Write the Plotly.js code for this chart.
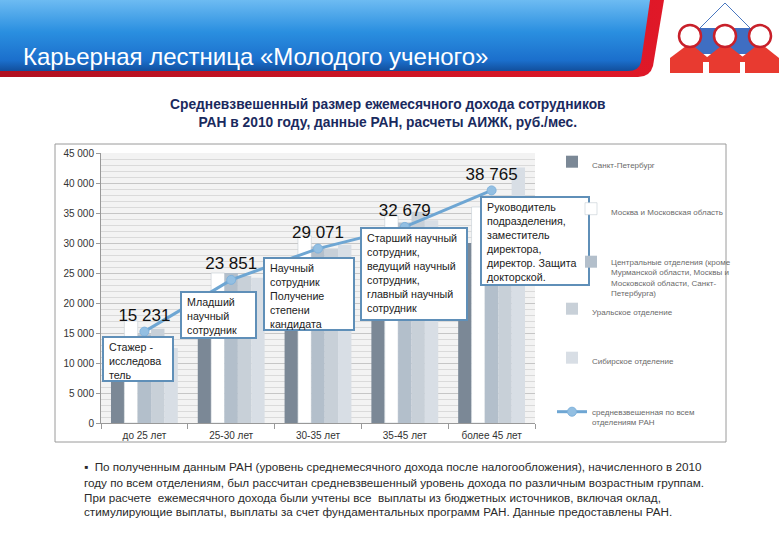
<!DOCTYPE html>
<html>
<head>
<meta charset="utf-8">
<script src="https://cdn.plot.ly/plotly-3.0.1.min.js"></script>
<style>html,body{margin:0;padding:0;background:#fff;}#chart{width:780px;height:540px;}</style>
</head>
<body>
<div id="chart"></div>
<script>
// ---- data ----
const categories = ['до 25 лет', '25-30 лет', '30-35 лет', '35-45 лет', 'более 45 лет'];
const spb      = [12500, 19500, 24000, 27000, 30000];
const moscow   = [17000, 25000, 31200, 34500, 36000];
const central  = [14800, 25000, 29400, 33400, 36000];
const ural     = [15700, 24500, 29100, 35200, 37000];
const siberia  = [12500, 24200, 29700, 33800, 42600];
const average  = [15231, 23851, 29071, 32679, 38765];
const seriesNames = [
  'Санкт-Петербург',
  'Москва и Московская область',
  'Центральные отделения (кроме<br>Мурманской области, Москвы и<br>Московской области, Санкт-<br>Петербурга)',
  'Уральское отделение',
  'Сибирское отделение',
  'средневзвешенная по всем<br>отделениям РАН'
];
const callouts = [
  'Стажер -<br>исследова<br>тель',
  'Младший<br>научный<br>сотрудник',
  'Научный<br>сотрудник<br>Получение<br>степени<br>кандидата',
  'Старший научный<br>сотрудник,<br>ведущий научный<br>сотрудник,<br>главный научный<br>сотрудник',
  'Руководитель<br>подразделения,<br>заместитель<br>директора,<br>директор. Защита<br>докторской.'
];
const titleText = 'Карьерная лестница «Молодого ученого»';
const subtitleLines = ['Средневзвешенный размер ежемесячного дохода сотрудников', 'РАН в 2010 году, данные РАН, расчеты АИЖК, руб./мес.'];
const noteLines = [
  '▪  По полученным данным РАН (уровень среднемесячного дохода после налогообложения), начисленного в 2010',
  'году по всем отделениям, был рассчитан средневзвешенный уровень дохода по различным возрастным группам.',
  'При расчете  ежемесячного дохода были учтены все  выплаты из бюджетных источников, включая оклад,',
  'стимулирующие выплаты, выплаты за счет фундаментальных программ РАН. Данные предоставлены РАН.'
];

// ---- geometry helpers (pixel -> paper) ----
const L = 101, R = 535, T = 153, B = 423;
const px = x => (x - L) / (R - L);
const py = y => (B - y) / (B - T);

const FONT = 'Liberation Sans, Arial, sans-serif';
const barColors = ['#7b8896', '#ffffff', '#b3bfcb', '#c8d0d8', '#d8dee5'];
const barData = [spb, moscow, central, ural, siberia];

const traces = barData.map((vals, i) => ({
  type: 'bar', x: categories, y: vals, name: seriesNames[i],
  legend: i === 0 ? 'legend' : 'legend' + (i + 1),
  marker: {color: barColors[i], line: {color: i === 1 ? '#c4ccd4' : barColors[i], width: i === 1 ? 0.6 : 0}}
}));
traces.push({
  type: 'scatter', mode: 'lines+markers+text', x: categories, y: average, name: seriesNames[5],
  legend: 'legend6',
  line: {color: '#6ea6d3', width: 3},
  marker: {color: '#93bfe2', size: 9, line: {color: '#7fb2dc', width: 1}},
  texttemplate: '%{y:,d}', textposition: 'top center',
  textfont: {family: FONT, size: 17, color: '#111'}, cliponaxis: false
});

function lg(xPix, yPix) {
  return {x: px(xPix), xanchor: 'left', y: py(yPix), yanchor: 'top', valign: 'top',
    bgcolor: 'rgba(255,255,255,0)', bordercolor: 'rgba(255,255,255,0)', borderwidth: 0, itemwidth: 30,
    font: {family: FONT, size: 8, color: '#6a6a6a'}};
}

// callout boxes: left, top, right, bottom in pixels
const boxes = [
  [103, 337, 173, 381],
  [181, 292, 256, 338],
  [264, 258, 354, 330],
  [361, 228, 467, 320],
  [481, 197, 589, 285]
];
const shapes = [{type: 'rect', xref: 'paper', yref: 'paper', x0: px(55), x1: px(726), y0: py(442), y1: py(144),
  line: {color: '#9a9a9a', width: 1}, fillcolor: 'rgba(0,0,0,0)', layer: 'below'}];
boxes.forEach(b => shapes.push({type: 'rect', xref: 'paper', yref: 'paper', layer: 'above',
  x0: px(b[0]), x1: px(b[2]), y0: py(b[3]), y1: py(b[1]),
  fillcolor: '#ffffff', line: {color: '#5f8fb8', width: 2}}));

const annotations = boxes.map((b, i) => ({
  xref: 'paper', yref: 'paper', x: px(b[0] + 4), y: py(b[1] + 2), xanchor: 'left', yanchor: 'top',
  text: callouts[i], showarrow: false, align: 'left',
  font: {family: FONT, size: 10.7, color: '#222'}
}));
annotations.push({
  xref: 'paper', yref: 'paper', x: px(21), y: py(57), xanchor: 'left', yanchor: 'middle',
  text: titleText, showarrow: false,
  font: {family: 'Liberation Sans, Arial', size: 24, color: '#ffffff'}
});
annotations.push({
  xref: 'paper', yref: 'paper', x: px(388), y: py(113), xanchor: 'center', yanchor: 'middle',
  text: subtitleLines.map(s => '<b>' + s + '</b>').join('<br>'), showarrow: false,
  font: {family: FONT, size: 13.8, color: '#1a2a5e'}
});
const noteY = [466, 482, 497, 512];
noteLines.forEach((t, i) => annotations.push({
  xref: 'paper', yref: 'paper', x: px(82), y: py(noteY[i]), xanchor: 'left', yanchor: 'middle',
  text: t, showarrow: false, font: {family: FONT, size: 11.7, color: '#2a2a2a'}
}));

const svg = `<svg xmlns='http://www.w3.org/2000/svg' width='780' height='80' viewBox='0 0 780 80'>
<defs><linearGradient id='g' x1='0' y1='0' x2='0' y2='1'>
<stop offset='0' stop-color='#6dbbf2'/><stop offset='0.45' stop-color='#2a8fe0'/>
<stop offset='0.85' stop-color='#1b6fcc'/><stop offset='1' stop-color='#124f9c'/></linearGradient>
<linearGradient id='r' x1='0' y1='0' x2='1' y2='0'><stop offset='0' stop-color='#b01020'/><stop offset='1' stop-color='#e01828'/></linearGradient></defs>
<path d='M0,0 H664 L653,66 Q650,77 638,77 H0 Z' fill='url(#r)'/>
<path d='M0,0 H650 L641,62 Q639,71 628,71 H0 Z' fill='url(#g)'/>
<line x1='725' y1='3' x2='698' y2='30' stroke='#4a78c0' stroke-width='1'/>
<line x1='725' y1='3' x2='752' y2='30' stroke='#4a78c0' stroke-width='1'/>
<rect x='690' y='28' width='70' height='26' fill='#3f6ec2'/>
<path d='M670,73 V58 L690,43 L707,57 V73 Z' fill='#e83a30'/>
<path d='M706,73 V58 L725,43 L743,57 V73 Z' fill='#e83a30'/>
<path d='M742,73 V57 L760,43 L779,58 V73 Z' fill='#e83a30'/>
<rect x='703' y='62' width='6' height='12' fill='#fff'/>
<rect x='740' y='62' width='5' height='12' fill='#fff'/>
<circle cx='690' cy='36' r='11' fill='#fff' stroke='#c8202a' stroke-width='2.5'/>
<circle cx='725' cy='36' r='11' fill='#fff' stroke='#c8202a' stroke-width='2.5'/>
<circle cx='760' cy='36' r='11' fill='#fff' stroke='#c8202a' stroke-width='2.5'/>
</svg>`;

const layout = {
  width: 780, height: 540,
  margin: {l: L, r: 780 - R, t: T, b: 540 - B, pad: 0},
  paper_bgcolor: '#ffffff', plot_bgcolor: '#f3f3f3',
  separators: ', ',
  font: {family: FONT, color: '#333'},
  barmode: 'group', bargap: 0.23, bargroupgap: 0,
  showlegend: true,
  legend: lg(552, 150), legend2: lg(571, 197), legend3: lg(571, 250),
  legend4: lg(552, 297), legend5: lg(552, 346), legend6: lg(552, 400),
  xaxis: {type: 'category', range: [-0.5, 4.5], tickson: 'boundaries', ticks: 'outside', ticklen: 5,
    tickcolor: '#999', showline: true, linecolor: '#999', showgrid: false, ticklabelstandoff: 3,
    tickfont: {family: FONT, size: 10, color: '#333'}},
  yaxis: {range: [0, 45000], dtick: 5000, tickformat: ',d', ticks: 'outside', ticklen: 4, tickcolor: '#999',
    showline: true, linecolor: '#999', gridcolor: '#c6c6c6', zeroline: false,
    minor: {dtick: 1000, showgrid: true, gridcolor: '#dadada', ticks: ''},
    tickfont: {family: FONT, size: 10, color: '#333'}},
  shapes: shapes,
  images: [{source: 'data:image/svg+xml;charset=utf-8,' + encodeURIComponent(svg),
    xref: 'paper', yref: 'paper', x: px(0), y: py(0), sizex: 780 / (R - L), sizey: 80 / (B - T),
    xanchor: 'left', yanchor: 'top', sizing: 'stretch', layer: 'below'}],
  annotations: annotations
};

Plotly.newPlot('chart', traces, layout, {staticPlot: true, displayModeBar: false});
</script>
</body>
</html>
